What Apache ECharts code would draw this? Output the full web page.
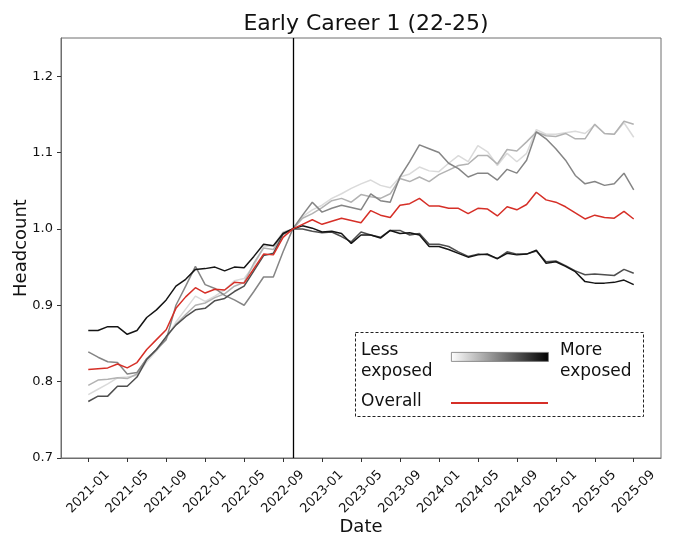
<!DOCTYPE html>
<html>
<head>
<meta charset="utf-8">
<title>Early Career 1 (22-25)</title>
<script src="https://cdn.jsdelivr.net/npm/echarts@6/dist/echarts.min.js"></script>
<style>
html, body { margin: 0; padding: 0; background: #fff; }
#chart { width: 680px; height: 538px; }
</style>
</head>
<body>
<div id="chart"></div>
<script>
// monthly headcount index, 2021-01 .. 2025-09 (57 months), normalised to 2022-10
var tickPos = [0, 4, 8, 12, 16, 20, 24, 28, 32, 36, 40, 44, 48, 52, 56];
var tickLabels = ['2021-01', '2021-05', '2021-09', '2022-01', '2022-05', '2022-09', '2023-01',
	'2023-05', '2023-09', '2024-01', '2024-05', '2024-09', '2025-01', '2025-05', '2025-09'];
var yTicks = [0.7, 0.8, 0.9, 1.0, 1.1, 1.2];
var refMonth = 21; // 2022-10

var lightest = [0.783, 0.790, 0.797, 0.805, 0.806, 0.808, 0.826, 0.840, 0.856, 0.878, 0.895, 0.912, 0.905, 0.912, 0.920, 0.932, 0.935, 0.952, 0.977, 0.978, 0.996,
	1.000,
	1.016, 1.025, 1.031, 1.040, 1.046, 1.053, 1.059, 1.064, 1.057, 1.054, 1.068, 1.072, 1.081, 1.076, 1.075, 1.086, 1.096, 1.088,
	1.109, 1.101, 1.083, 1.099, 1.088, 1.099, 1.130, 1.124, 1.124, 1.126, 1.128, 1.125, 1.136, 1.125, 1.124, 1.139, 1.120];
var light = [0.795, 0.802, 0.803, 0.805, 0.804, 0.810, 0.830, 0.842, 0.858, 0.875, 0.888, 0.900, 0.903, 0.910, 0.915, 0.925, 0.930, 0.955, 0.975, 0.973, 0.995,
	1.000,
	1.014, 1.020, 1.028, 1.037, 1.040, 1.035, 1.045, 1.042, 1.040, 1.046, 1.066, 1.062, 1.068, 1.062, 1.071, 1.077, 1.083, 1.085,
	1.096, 1.096, 1.085, 1.104, 1.102, 1.114, 1.127, 1.122, 1.121, 1.125, 1.118, 1.118, 1.137, 1.125, 1.124, 1.141, 1.137];
var medium = [0.839, 0.832, 0.826, 0.825, 0.810, 0.812, 0.830, 0.842, 0.855, 0.900, 0.925, 0.951, 0.927, 0.922, 0.913, 0.907, 0.900, 0.918, 0.937, 0.937, 0.970,
	1.000,
	1.018, 1.035, 1.022, 1.027, 1.031, 1.028, 1.025, 1.046, 1.037, 1.035, 1.068, 1.088, 1.110, 1.105, 1.100, 1.086, 1.079, 1.068,
	1.073, 1.073, 1.064, 1.078, 1.073, 1.090, 1.127, 1.118, 1.105, 1.090, 1.070, 1.059, 1.062, 1.057, 1.059, 1.073, 1.051];
var dark = [0.774, 0.781, 0.781, 0.794, 0.794, 0.806, 0.829, 0.842, 0.859, 0.874, 0.885, 0.894, 0.896, 0.906, 0.909, 0.918, 0.925, 0.945, 0.965, 0.968, 0.993,
	1.000,
	1.000, 0.997, 0.995, 0.996, 0.990, 0.983, 0.996, 0.992, 0.989, 0.998, 0.998, 0.992, 0.994, 0.980, 0.980, 0.977, 0.970, 0.964,
	0.967, 0.966, 0.961, 0.970, 0.967, 0.967, 0.971, 0.957, 0.958, 0.952, 0.945, 0.940, 0.941, 0.940, 0.939, 0.947, 0.942];
var darkest = [0.867, 0.867, 0.872, 0.872, 0.862, 0.867, 0.884, 0.894, 0.907, 0.925, 0.934, 0.947, 0.948, 0.950, 0.945, 0.950, 0.949, 0.964, 0.980, 0.978, 0.994,
	1.000,
	1.004, 1.001, 0.996, 0.997, 0.994, 0.981, 0.992, 0.992, 0.988, 0.998, 0.994, 0.995, 0.992, 0.977, 0.977, 0.973, 0.968, 0.963,
	0.966, 0.967, 0.961, 0.968, 0.966, 0.967, 0.972, 0.955, 0.957, 0.951, 0.944, 0.931, 0.929, 0.929, 0.930, 0.933, 0.927];
var overall = [0.816, 0.817, 0.818, 0.823, 0.818, 0.825, 0.842, 0.855, 0.868, 0.896, 0.911, 0.923, 0.916, 0.921, 0.920, 0.930, 0.929, 0.948, 0.967, 0.966, 0.989,
	1.000,
	1.006, 1.012, 1.006, 1.010, 1.014, 1.011, 1.008, 1.024, 1.018, 1.015, 1.031, 1.033, 1.040, 1.030, 1.030, 1.027, 1.027, 1.020,
	1.027, 1.026, 1.017, 1.029, 1.025, 1.032, 1.048, 1.038, 1.035, 1.029, 1.021, 1.013, 1.018, 1.015, 1.014, 1.023, 1.013];

var greyLines = [lightest, light, medium, dark, darkest];
var greyColors = ['#dadada', '#b2b2b2', '#858585', '#4f4f4f', '#151515'];

function pairs(arr) {
	var out = [];
	for (var i = 0; i < arr.length; i++) {
		out.push([i, arr[i]]);
	}
	return out;
}

var font = 'DejaVu Sans';
var series = [];
for (var g = 0; g < greyLines.length; g++) {
	series.push({
		type: 'line',
		data: pairs(greyLines[g]),
		symbol: 'none',
		lineStyle: { color: greyColors[g], width: 1.5 },
		z: 2 + g
	});
}
series.push({
	type: 'line',
	data: pairs(overall),
	symbol: 'none',
	lineStyle: { color: '#d62f27', width: 1.5 },
	z: 10,
	markLine: {
		silent: true,
		symbol: 'none',
		label: { show: false },
		lineStyle: { color: '#000', width: 1.3, type: 'solid' },
		data: [{ xAxis: refMonth }]
	}
});

var myChart = echarts.init(document.getElementById('chart'));
var option = {
	animation: false,
	backgroundColor: '#fff',
	title: {
		text: 'Early Career 1 (22-25)',
		left: 361,
		textAlign: 'center',
		top: 8,
		textStyle: { fontFamily: font, fontSize: 22, fontWeight: 'normal', color: '#111' }
	},
	grid: {
		left: 61, right: 19, top: 38, bottom: 80,
		outerBoundsMode: 'none',
		containLabel: false,
		show: true, borderColor: '#6e6e6e', borderWidth: 1, backgroundColor: 'transparent'
	},
	xAxis: {
		type: 'value',
		min: -2.8,
		max: 58.8,
		name: 'Date',
		nameLocation: 'middle',
		nameGap: 60,
		nameMoveOverlap: false,
		nameTextStyle: { fontFamily: font, fontSize: 18, color: '#111' },
		axisLine: { show: true, onZero: false, lineStyle: { color: '#6e6e6e', width: 1 } },
		axisTick: { show: true, customValues: tickPos, length: 4, lineStyle: { color: '#333' } },
		axisLabel: {
			customValues: tickPos,
			rotate: 45,
			align: 'center',
			verticalAlign: 'middle',
			margin: 34,
			fontFamily: font,
			fontSize: 13,
			color: '#111',
			formatter: function(v) {
				var k = tickPos.indexOf(Math.round(v));
				return k >= 0 ? tickLabels[k] : '';
			}
		},
		splitLine: { show: false }
	},
	yAxis: {
		type: 'value',
		min: 0.7,
		max: 1.25,
		name: 'Headcount',
		nameLocation: 'middle',
		nameGap: 31,
		nameMoveOverlap: false,
		nameTextStyle: { fontFamily: font, fontSize: 18, color: '#111' },
		axisLine: { show: true, onZero: false, lineStyle: { color: '#6e6e6e', width: 1 } },
		axisTick: { show: true, customValues: yTicks, length: 4, lineStyle: { color: '#333' } },
		axisLabel: {
			customValues: yTicks,
			margin: 8,
			fontFamily: font,
			fontSize: 13,
			color: '#111',
			formatter: function(v) { return v.toFixed(1); }
		},
		splitLine: { show: false }
	},
	graphic: [
		{
			type: 'rect', left: 355, top: 332, z: 20,
			shape: { width: 288, height: 84 },
			style: { fill: '#fff', stroke: '#222', lineWidth: 1, lineDash: [3, 2] }
		},
		{
			type: 'text', left: 361, top: 340, z: 21,
			style: { text: 'Less\nexposed', font: '17px "DejaVu Sans"', fill: '#111', lineHeight: 21 }
		},
		{
			type: 'rect', left: 451, top: 352, z: 21,
			shape: { width: 97, height: 9 },
			style: {
				fill: new echarts.graphic.LinearGradient(0, 0, 1, 0, [
					{ offset: 0, color: '#ffffff' },
					{ offset: 1, color: '#000000' }
				]),
				stroke: '#777', lineWidth: 0.8
			}
		},
		{
			type: 'text', left: 560, top: 340, z: 21,
			style: { text: 'More\nexposed', font: '17px "DejaVu Sans"', fill: '#111', lineHeight: 21 }
		},
		{
			type: 'text', left: 361, top: 393, z: 21,
			style: { text: 'Overall', font: '17px "DejaVu Sans"', fill: '#111' }
		},
		{
			type: 'line', z: 21,
			shape: { x1: 451, y1: 403, x2: 548, y2: 403 },
			style: { stroke: '#d62f27', lineWidth: 2 }
		}
	],
	series: series
};
myChart.setOption(option);
</script>
</body>
</html>
